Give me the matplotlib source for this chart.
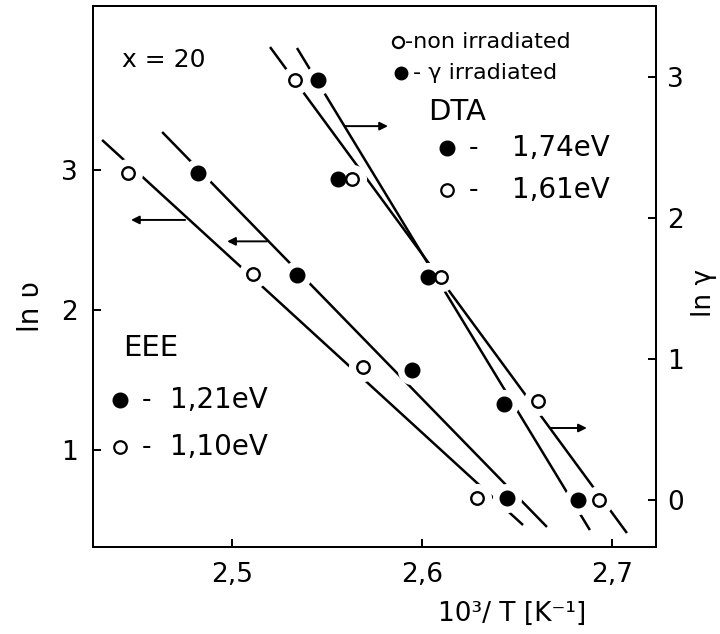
import numpy as np
import matplotlib
matplotlib.use("Agg")
import matplotlib.pyplot as plt

# ln(heating rate) vs 10^3/T, x = 20 sample
# EEE (left axis)
eee_open_x = [2.445, 2.511, 2.569, 2.629]
eee_open_y = [2.98, 2.26, 1.59, 0.66]
eee_full_x = [2.482, 2.534, 2.595, 2.645]
eee_full_y = [2.98, 2.25, 1.57, 0.66]

# DTA (right axis)
dta_open_x = [2.533, 2.563, 2.610, 2.661, 2.693]
dta_open_y = [2.98, 2.28, 1.58, 0.70, 0.0]
dta_full_x = [2.545, 2.556, 2.603, 2.643, 2.682]
dta_full_y = [2.98, 2.28, 1.58, 0.68, 0.0]

# fitted straight lines as drawn (end points)
eee_open_fit_x = [2.4316, 2.6532]
eee_open_fit_y = [3.214, 0.464]
eee_full_fit_x = [2.4632, 2.6658]
eee_full_fit_y = [3.271, 0.450]
dta_open_fit_x = [2.520, 2.7079]
dta_open_fit_y = [3.213, -0.234]
dta_full_fit_x = [2.5342, 2.6884]
dta_full_fit_y = [3.206, -0.213]

xticks = [2.5, 2.6, 2.7]
xtick_labels = ["2,5", "2,6", "2,7"]
left_ticks = [1, 2, 3]
right_ticks = [0, 1, 2, 3]

plt.rcParams['font.family'] = ['DejaVu Sans']


def draw_series(ax, fx, fy, x, y):
    ax.plot(fx, fy, color='black', lw=1.8, solid_capstyle='butt', zorder=1)
    # white halo gives the broken-line look around each point
    ax.plot(x, y, 'o', ms=21, color='white', mec='none', zorder=2)


def draw_points(ax, x, y, filled):
    if filled:
        ax.plot(x, y, 'o', ms=10.5, color='black', zorder=3)
    else:
        ax.plot(x, y, 'o', ms=9, mfc='white', mec='black', mew=1.7, zorder=3)


fig = plt.figure(figsize=(7.2, 6.34), dpi=100)
ax = fig.add_axes([93 / 720, 1 - 547 / 634, 563 / 720, 541 / 634])
ax2 = ax.twinx()

draw_series(ax, eee_open_fit_x, eee_open_fit_y, eee_open_x, eee_open_y)
draw_series(ax, eee_full_fit_x, eee_full_fit_y, eee_full_x, eee_full_y)
draw_points(ax, eee_open_x, eee_open_y, False)
draw_points(ax, eee_full_x, eee_full_y, True)

draw_series(ax2, dta_open_fit_x, dta_open_fit_y, dta_open_x, dta_open_y)
draw_series(ax2, dta_full_fit_x, dta_full_fit_y, dta_full_x, dta_full_y)
draw_points(ax2, dta_open_x, dta_open_y, False)
draw_points(ax2, dta_full_x, dta_full_y, True)

ax.set_xlim(2.4268, 2.7232)
ax.set_ylim(0.307, 4.171)
ax2.set_ylim(-0.333, 3.504)

ax.set_xticks(xticks)
ax.set_xticklabels(xtick_labels)
ax.set_yticks(left_ticks)
ax2.set_yticks(right_ticks)

for a in (ax, ax2):
    for s in a.spines.values():
        s.set_linewidth(1.4)
ax.tick_params(axis='both', direction='in', length=6, width=1.4, labelsize=19)
ax.tick_params(axis='x', pad=11)
ax.tick_params(axis='y', pad=11)
ax2.tick_params(axis='y', direction='in', length=6, width=1.4, labelsize=19, pad=8)

ax.set_xlabel("10³/ T [K⁻¹]", fontsize=19)
ax.xaxis.set_label_coords(0.744, -0.10)
ax.set_ylabel("ln ʋ", fontsize=20)
ax.yaxis.set_label_coords(-0.085, 0.444)
ax2.set_ylabel("ln γ", fontsize=19, rotation=90)
ax2.yaxis.set_label_coords(1.062, 0.47)

# arrows pointing to the relevant axis
arrow = dict(arrowstyle='-|>', lw=1.4, color='black', mutation_scale=12, shrinkA=0, shrinkB=0)
ax.annotate("", xy=(2.4468, 2.643), xytext=(2.4753, 2.643), arrowprops=arrow)
ax.annotate("", xy=(2.4974, 2.49), xytext=(2.5184, 2.49), arrowprops=arrow)
ax2.annotate("", xy=(2.5821, 2.652), xytext=(2.5595, 2.652), arrowprops=arrow)
ax2.annotate("", xy=(2.6868, 0.511), xytext=(2.6674, 0.511), arrowprops=arrow)

# annotations
T = ax.transAxes
ax.text(0.0515, 0.900, "x = 20", transform=T, fontsize=18, va='center', ha='left')

ax.plot([0.5417], [0.9335], 'o', ms=8, mfc='white', mec='black', mew=1.6, transform=T, clip_on=False, zorder=5)
ax.plot([0.547], [0.876], 'o', ms=9, color='black', transform=T, clip_on=False, zorder=5)
ax.text(0.554, 0.9335, "-non irradiated", transform=T, fontsize=16, va='center', ha='left')
ax.text(0.568, 0.876, "- γ irradiated", transform=T, fontsize=16, va='center', ha='left')

ax.text(0.595, 0.804, "DTA", transform=T, fontsize=21, va='center', ha='left')
ax.plot([0.6288], [0.7375], 'o', ms=10.5, color='black', transform=T, zorder=5)
ax.plot([0.6288], [0.660], 'o', ms=9, mfc='white', mec='black', mew=1.6, transform=T, zorder=5)
ax.text(0.675, 0.7375, "-", transform=T, fontsize=19, va='center', ha='center')
ax.text(0.675, 0.660, "-", transform=T, fontsize=19, va='center', ha='center')
ax.text(0.744, 0.7375, "1,74eV", transform=T, fontsize=20, va='center', ha='left')
ax.text(0.744, 0.660, "1,61eV", transform=T, fontsize=20, va='center', ha='left')

ax.text(0.0533, 0.368, "EEE", transform=T, fontsize=21, va='center', ha='left')
ax.plot([0.048], [0.2717], 'o', ms=10.5, color='black', transform=T, zorder=5)
ax.plot([0.048], [0.185], 'o', ms=9, mfc='white', mec='black', mew=1.6, transform=T, zorder=5)
ax.text(0.0959, 0.2717, "-", transform=T, fontsize=19, va='center', ha='center')
ax.text(0.0959, 0.185, "-", transform=T, fontsize=19, va='center', ha='center')
ax.text(0.1368, 0.2717, "1,21eV", transform=T, fontsize=20, va='center', ha='left')
ax.text(0.1368, 0.185, "1,10eV", transform=T, fontsize=20, va='center', ha='left')

fig.savefig("out.png", dpi=100)
